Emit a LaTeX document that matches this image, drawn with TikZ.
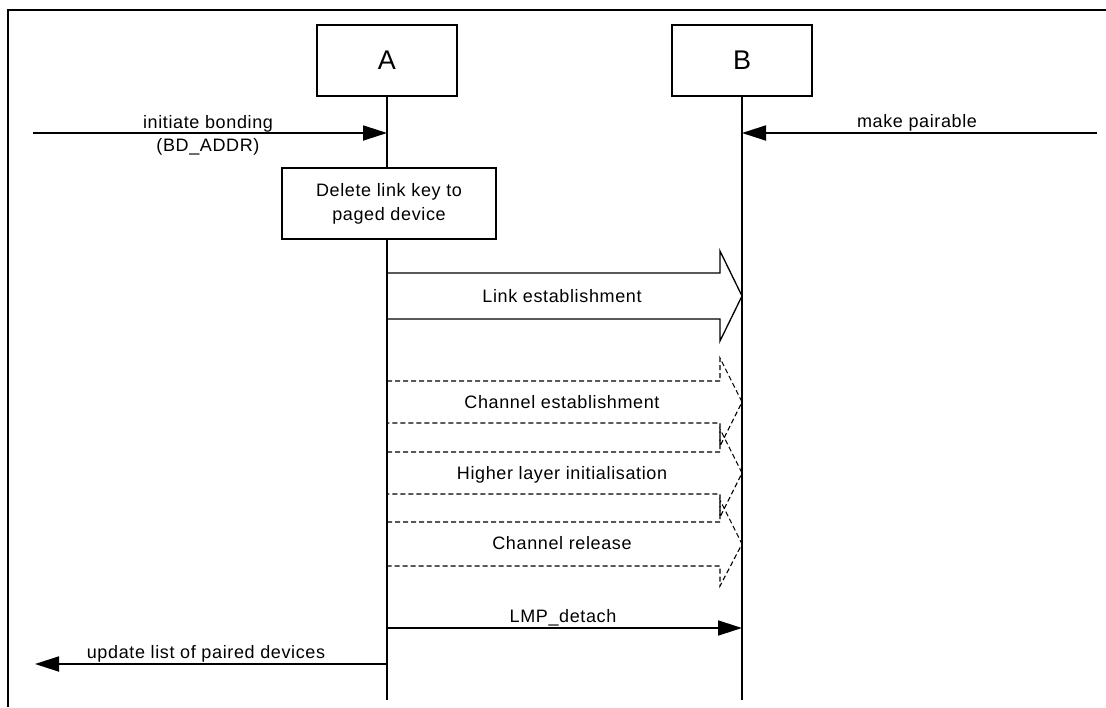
\documentclass[tikz,border=0pt]{standalone}
\usepackage{fontspec}
\setmainfont{Liberation Sans}[LetterSpace=3.5]
\usetikzlibrary{arrows.meta}
\begin{document}
\begin{tikzpicture}[x=1pt,y=-1pt,
  txt/.style={font=\fontsize{18}{24}\selectfont, inner sep=0pt, anchor=base},
  ent/.style={draw, line width=1.8pt, fill=white, minimum width=140pt, minimum height=71pt, inner sep=0pt, font=\fontsize{27}{30}\selectfont},
  procbox/.style={draw, line width=1.8pt, fill=white, minimum width=214pt, minimum height=71pt, inner sep=0pt, align=center, font=\fontsize{18}{24}\selectfont},
  life/.style={line width=1.8pt},
  msg/.style={line width=1.8pt, -{Triangle[length=24pt,width=15pt]}},
  fat/.style={line width=1.3pt, line join=miter},
  fatd/.style={line width=1.1pt, dash pattern=on 5pt off 3pt},
]
\useasboundingbox (0,0) rectangle (1106,707);
% frame
\draw[line width=2.5pt] (1106,10) -- (8,10) -- (8,707);
% entities
\node[ent] (A) at (387,60.5) {A};
\node[ent] (B) at (742,60.5) {B};
\coordinate (Aend) at (387,700);
\coordinate (Bend) at (742,700);
\draw[life] (A.south) -- (Aend);
\draw[life] (B.south) -- (Bend);
% initiate bonding
\coordinate (ib0) at (33,133);
\coordinate (ib1) at (387,133);
\draw[msg] (ib0) -- (ib1);
\node[txt] (ibl1) at (208,128) {initiate bonding};
\node[txt] (ibl2) at (208,151) {(BD\_ADDR)};
% make pairable
\coordinate (mp0) at (1097,133);
\coordinate (mp1) at (742,133);
\draw[msg] (mp0) -- (mp1);
\node[txt] (mpl) at (917,127) {make pairable};
% delete box
\node[procbox] (del) at (389,203.5) {Delete link key to\\paged device};
% Link establishment
\draw[fat] (387,273) -- (720,273) -- (720,251) -- (742,296) -- (720,341) -- (720,319) -- (387,319);
\node[txt] (le) at (562,302) {Link establishment};
% Channel establishment
\draw[fatd] (387,381) -- (720,381) -- (720,358) -- (742,402) -- (720,446) -- (720,423) -- (387,423);
\node[txt] (ce) at (562,408) {Channel establishment};
% Higher layer initialisation
\draw[fatd] (387,452) -- (720,452) -- (720,429) -- (742,473) -- (720,517) -- (720,494) -- (387,494);
\node[txt] (hl) at (562,479) {Higher layer initialisation};
% Channel release
\draw[fatd] (387,522) -- (720,522) -- (720,500) -- (742,544) -- (720,586) -- (720,566) -- (387,566);
\node[txt] (cr) at (562,549) {Channel release};
% LMP_detach
\coordinate (ld0) at (387,628);
\coordinate (ld1) at (742,628);
\draw[msg] (ld0) -- (ld1);
\node[txt] (ldl) at (563,622) {LMP\_detach};
% update list
\coordinate (ul0) at (387,664);
\coordinate (ul1) at (35,664);
\draw[msg] (ul0) -- (ul1);
\node[txt] (ull) at (206,658) {update list of paired devices};
\end{tikzpicture}
\end{document}
